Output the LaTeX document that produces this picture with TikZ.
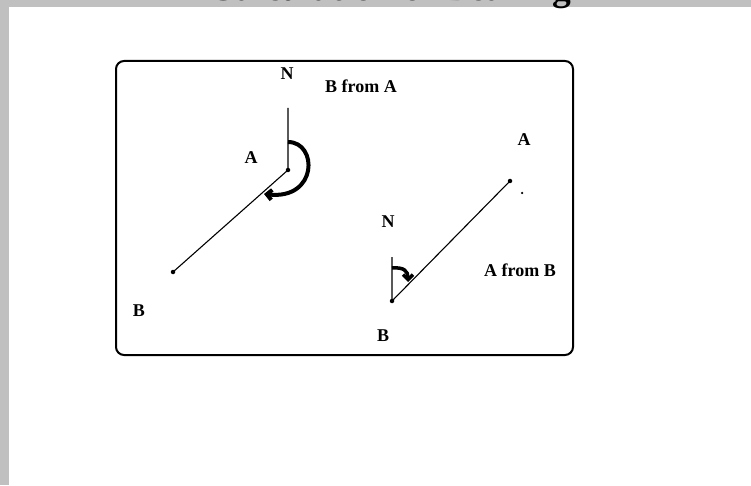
\documentclass[tikz,border=0pt]{standalone}
\usepackage{fontspec}
\setmainfont{Liberation Serif}
\usetikzlibrary{arrows.meta}
\definecolor{pagegray}{RGB}{192,192,192}

\begin{document}
\begin{tikzpicture}[x=1pt,y=1pt,
  every node/.style={font=\fontsize{18}{20}\selectfont\bfseries,inner sep=0pt},
  pt/.style={circle,fill,minimum size=4.5pt},
  turn/.style={line width=4pt,-{Straight Barb[length=5pt,width=10pt]}}]
\useasboundingbox (0,0) rectangle (751,485);
\clip (0,0) rectangle (751,485);
\fill[pagegray] (0,0) rectangle (751,485);
\fill[white] (9,0) rectangle (751,478);
\node[font=\fontsize{37.5}{40}\selectfont\bfseries,anchor=base] (title) at (390,484.5) {Calculation of Bearing};
\draw[line width=2pt,rounded corners=8pt] (116,130) rectangle (573,424);
% bearing of B from A
\node[pt] (A1) at (288,315) {};
\node[pt] (B1) at (173,213) {};
\coordinate (N1) at (288,377);
\coordinate (s1) at (288,343);
\coordinate (t1) at (264,291);
\draw[line width=1.1pt] (N1) -- (A1.center) -- (B1.center);
\draw[turn] (s1) .. controls (318,343) and (318,285) .. (t1);
\node (labN1) at (287,411) {N};
\node (labBA) at (361,399) {B from A};
\node (labA1) at (251,327) {A};
\node (labB1) at (139,174) {B};
% bearing of A from B
\node[pt] (B2) at (392,184) {};
\node[pt] (A2) at (510,304) {};
\node[pt,minimum size=2.5pt] (dot) at (522,292) {};
\coordinate (N2) at (392,228);
\coordinate (s2) at (392,217);
\coordinate (t2) at (408,203);
\draw[line width=1.1pt] (N2) -- (B2.center) -- (A2.center);
\draw[turn,line width=3.5pt] (s2) .. controls (404,218) and (408,214) .. (t2);
\node (labN2) at (388,263) {N};
\node (labAB) at (520,215) {A from B};
\node (labA2) at (524,345) {A};
\node (labB2) at (383,149) {B};
\end{tikzpicture}
\end{document}
